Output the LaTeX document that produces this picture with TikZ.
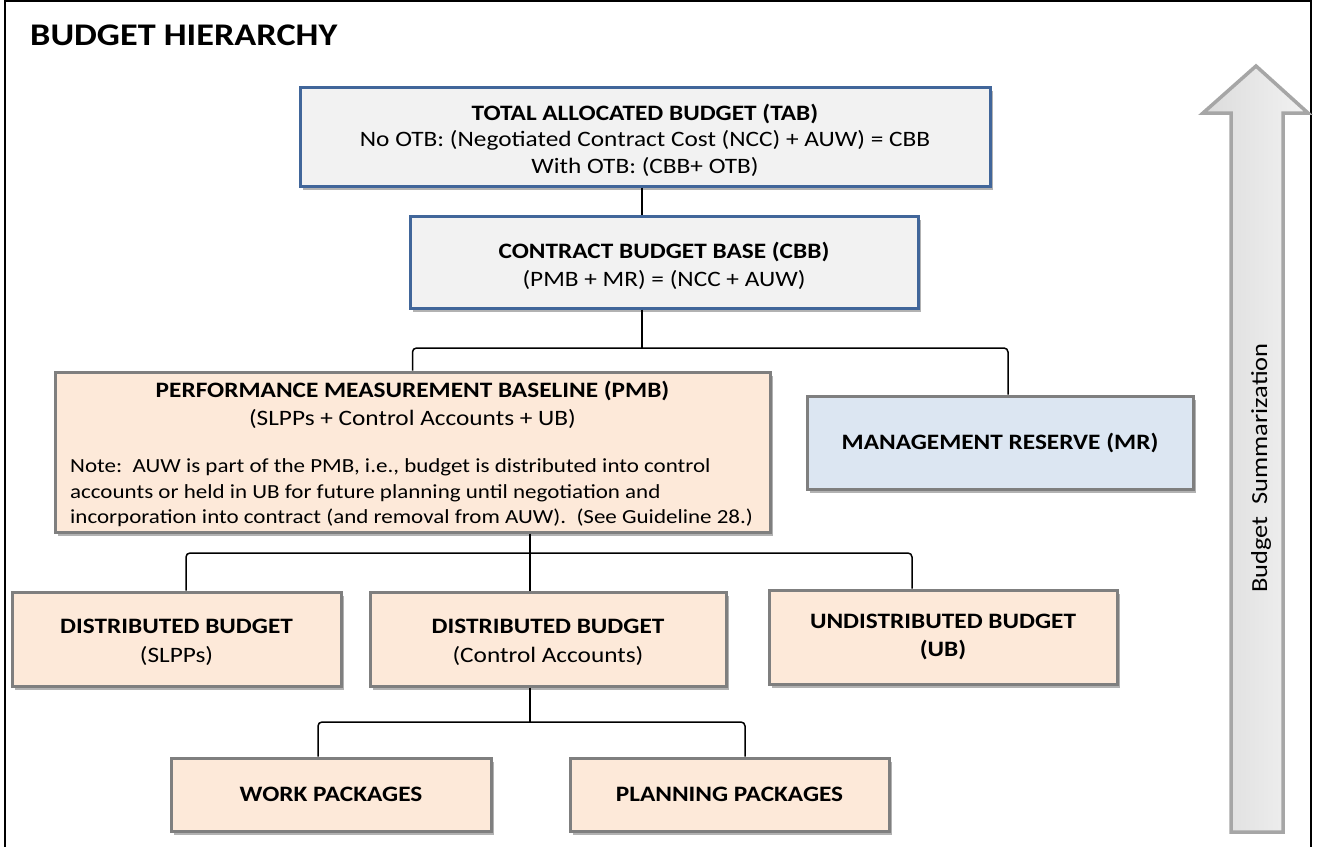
\documentclass[tikz,border=0pt]{standalone}
\usepackage{fontspec}
\setmainfont{Carlito}[FakeStretch=1.15]
\usetikzlibrary{shadows}
\definecolor{tabblue}{HTML}{41669A}
\definecolor{boxgray}{HTML}{F2F2F2}
\definecolor{peach}{HTML}{FDE9D9}
\definecolor{lblue}{HTML}{DCE6F2}
\definecolor{bordergray}{HTML}{7F7F7F}
\definecolor{arrowgray}{HTML}{A6A6A6}
\newcommand{\boxup}[1][24pt]{\rule{0pt}{#1}}
\tikzset{
  box/.style={rectangle, draw, line width=3pt, inner sep=0pt, align=center,
    font=\fontsize{22}{28.5}\selectfont,
    drop shadow={shadow xshift=3pt, shadow yshift=-4pt, opacity=0.3, fill=black}},
  bluebox/.style={box, draw=tabblue, fill=boxgray},
  peachbox/.style={box, draw=bordergray, fill=peach},
  mrbox/.style={box, draw=bordergray, fill=lblue},
  conn/.style={line width=1.5pt, rounded corners=4pt},
  plain/.style={inner sep=0pt, font=\fontsize{22}{28}\selectfont}
}
\begin{document}
\begin{tikzpicture}[x=1pt,y=1pt]
\useasboundingbox (0,0) rectangle (1325,-846);
\fill[white] (0,0) rectangle (1325,-846);
% frame
\draw[line width=2pt] (5,-860) -- (5,-1) -- (1311,-1) -- (1311,-860);
% title
\node[anchor=base west, inner sep=0pt, font=\bfseries\fontsize{31.5}{34}\selectfont] (title) at (30,-45) {BUDGET HIERARCHY};
% arrow
\draw[line width=3.5pt, draw=arrowgray, line join=miter, left color=black!14, right color=black!5]
  (1231,-832) -- (1231,-113) -- (1203,-113) -- (1256,-66) -- (1308,-113) -- (1283,-113) -- (1283,-832) -- cycle;
\node[inner sep=0pt, font=\fontsize{23}{26}\selectfont, rotate=90] (sum) at (1261,-468) {Budget\hspace{0.25em} Summarization};
% boxes
\node[bluebox, minimum width=690, minimum height=99, font=\fontsize{22}{26.5}\selectfont] (TAB) at (645,-136.5)
  {\boxup\textbf{TOTAL ALLOCATED BUDGET (TAB)}\\No OTB: (Negotiated Contract Cost (NCC) + AUW) = CBB\\With OTB: (CBB+ OTB)};
\node[bluebox, minimum width=508, minimum height=92] (CBB) at (664,-262)
  {\boxup\textbf{CONTRACT BUDGET BASE (CBB)}\\(PMB + MR) = (NCC + AUW)};
\node[peachbox, minimum width=715, minimum height=160] (PMB) at (412.5,-452) {};
\node[plain, anchor=base] (pmbt) at (412.5,-397) {\textbf{PERFORMANCE MEASUREMENT BASELINE (PMB)}};
\node[plain, anchor=base] (pmbs) at (412.5,-425) {(SLPPs + Control Accounts + UB)};
\node[inner sep=0pt, font=\fontsize{20}{25.5}\selectfont, anchor=west, align=left] (pmbn) at (70,-493)
  {Note:\ \ AUW is part of the PMB, i.e., budget is distributed into control\\accounts or held in UB for future planning until negotiation and\\incorporation into contract (and removal from AUW).\ \ (See Guideline 28.)};
\node[mrbox, minimum width=386, minimum height=93] (MR) at (1000,-442.5)
  {\textbf{MANAGEMENT RESERVE (MR)}};
\node[peachbox, minimum width=329, minimum height=94] (DB1) at (176.5,-639)
  {\boxup[21pt]\textbf{DISTRIBUTED BUDGET}\\(SLPPs)};
\node[peachbox, minimum width=356, minimum height=94] (DB2) at (548,-639)
  {\boxup[21pt]\textbf{DISTRIBUTED BUDGET}\\(Control Accounts)};
\node[peachbox, minimum width=348, minimum height=94] (UB) at (943,-637)
  {\textbf{UNDISTRIBUTED BUDGET}\\\textbf{(UB)}};
\node[peachbox, minimum width=320, minimum height=73] (WP) at (331,-794.5)
  {\textbf{WORK PACKAGES}};
\node[peachbox, minimum width=319, minimum height=73] (PP) at (729.5,-794.5)
  {\textbf{PLANNING PACKAGES}};
% junction coordinates
\coordinate (j1) at (642,-348);
\coordinate (xmr) at (1008,-348);
\coordinate (j2) at (530,-553);
\coordinate (xdb1) at (186,-553);
\coordinate (xub) at (912,-553);
\coordinate (j3) at (530,-722);
\coordinate (xwp) at (318,-722);
\coordinate (xpp) at (745,-722);
% connectors
\draw[line width=1.5pt] (TAB.south -| j1) -- (CBB.north -| j1);
\draw[line width=1.5pt] (CBB.south -| j1) -- (j1);
\draw[conn] (PMB.north) -- (PMB.north |- j1) -- (xmr) -- (MR.north -| xmr);
\draw[line width=1.5pt] (PMB.south -| j2) -- (j2);
\draw[conn] (DB1.north -| xdb1) -- (xdb1) -- (xub) -- (UB.north -| xub);
\draw[line width=1.5pt] (j2) -- (DB2.north -| j2);
\draw[line width=1.5pt] (DB2.south -| j3) -- (j3);
\draw[conn] (WP.north -| xwp) -- (xwp) -- (xpp) -- (PP.north -| xpp);
\end{tikzpicture}
\end{document}
